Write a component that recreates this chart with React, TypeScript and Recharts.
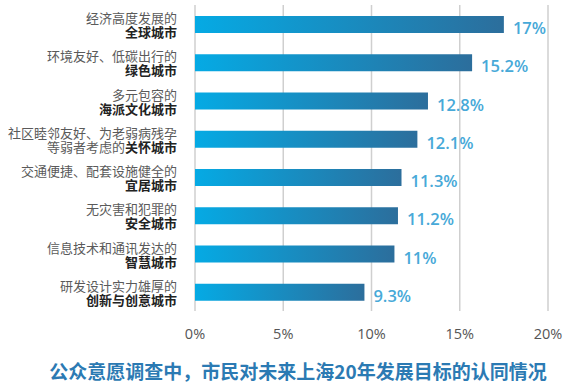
import React from "react";
import { BarChart, Bar, XAxis, YAxis, CartesianGrid, LabelList } from "recharts";

const line1 = [
  "经济高度发展的",
  "环境友好、低碳出行的",
  "多元包容的",
  "社区睦邻友好、为老弱病残孕",
  "交通便捷、配套设施健全的",
  "无灾害和犯罪的",
  "信息技术和通讯发达的",
  "研发设计实力雄厚的",
];
const line2Plain = ["", "", "", "等弱者考虑的", "", "", "", ""];
const line2Bold = [
  "全球城市",
  "绿色城市",
  "海派文化城市",
  "关怀城市",
  "宜居城市",
  "安全城市",
  "智慧城市",
  "创新与创意城市",
];
// bar lengths as drawn in the picture (%)
const barLengths = [17.5, 15.7, 13.2, 12.6, 11.7, 11.5, 11.3, 9.6];
// value labels as printed
const valueLabels = ["17%", "15.2%", "12.8%", "12.1%", "11.3%", "11.2%", "11%", "9.3%"];
const xTicks = [0, 5, 10, 15, 20];
const title = "公众意愿调查中，市民对未来上海20年发展目标的认同情况";

const data = line1.map((l, i) => ({
  key: String(i),
  value: barLengths[i],
  label: valueLabels[i],
}));

const CJK = '"Noto Sans CJK SC", "Noto Sans", sans-serif';

const CategoryTick = (props: any) => {
  const { x, y, payload } = props;
  const i = Number(payload.value);
  return (
    <text x={x} y={y - 7} textAnchor="end" dominantBaseline="central" fontSize={13} fill="#5a5a5a" fontFamily={CJK}>
      <tspan x={x} y={y - 7}>{line1[i]}</tspan>
      <tspan x={x} y={y + 7}>
        {line2Plain[i]}
        <tspan fill="#222" fontWeight={700}>{line2Bold[i]}</tspan>
      </tspan>
    </text>
  );
};

const ValueLabel = (props: any) => {
  const { x, y, width, height, index } = props;
  return (
    <text
      x={x + width + 9}
      y={y + height / 2 + 3}
      dominantBaseline="central"
      fontSize={16.5}
      fontWeight={600}
      fill="#47a9d8"
      fontFamily='"Open Sans", sans-serif'
    >
      {valueLabels[index]}
    </text>
  );
};

export default function App() {
  return (
    <div style={{ position: "absolute", left: 0, top: 0, width: 580, height: 387, background: "#fff" }}>
      <BarChart
        width={580}
        height={345}
        data={data}
        layout="vertical"
        margin={{ top: 5, right: 32, bottom: 0, left: 0 }}
        barCategoryGap={0}
      >
        <defs>
          <linearGradient id="barGrad" x1="0" y1="0" x2="1" y2="0">
            <stop offset="0%" stopColor="#05aae4" />
            <stop offset="100%" stopColor="#2c6e9c" />
          </linearGradient>
        </defs>
        <CartesianGrid horizontal={false} stroke="#cfcfcf" strokeWidth={1.5} />
        <XAxis
          type="number"
          domain={[0, 20]}
          ticks={xTicks}
          tickFormatter={(v: number) => `${v}%`}
          axisLine={false}
          tickLine={false}
          tickMargin={12}
          height={34}
          tick={{ fontSize: 14.5, fill: "#555", fontFamily: '"Open Sans", sans-serif' }}
        />
        <YAxis
          type="category"
          dataKey="key"
          width={195}
          axisLine={false}
          tickLine={false}
          tickMargin={12}
          tick={<CategoryTick />}
          interval={0}
        />
        <Bar dataKey="value" fill="url(#barGrad)" barSize={17} isAnimationActive={false}>
          <LabelList dataKey="label" content={<ValueLabel />} />
        </Bar>
      </BarChart>
      <div
        style={{
          position: "absolute",
          left: 0,
          width: 596,
          top: 358,
          textAlign: "center",
          fontFamily: CJK,
          fontWeight: 700,
          fontSize: 19,
          color: "#2b7ab3",
          lineHeight: "26px",
          whiteSpace: "nowrap",
        }}
      >
        {title}
      </div>
    </div>
  );
}
